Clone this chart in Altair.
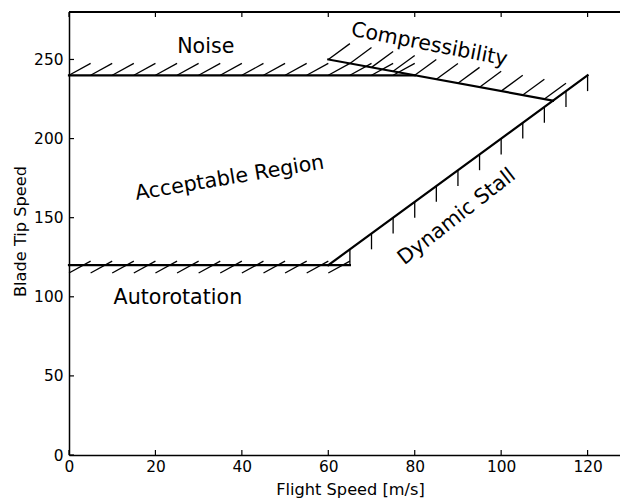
import altair as alt
import pandas as pd

# ---- data ----
# boundary lines (flight speed, blade tip speed)
noise_x = [0, 80]
noise_y = [240, 240]
comp_x = [60, 112]
comp_y = [250, 224]
stall_x = [60, 120]
stall_y = [120, 240]
auto_x = [0, 65]
auto_y = [120, 120]

# hatch anchor points
noise_hatch_x = [0, 5, 10, 15, 20, 25, 30, 35, 40, 45, 50, 55, 60, 65, 70, 75]
comp_hatch_x = [60, 65, 70, 75, 80, 85, 90, 95, 100, 105, 110]
comp_hatch_y = [250, 247.5, 245, 242.5, 240, 237.5, 235, 232.5, 230, 227.5, 225]
auto_hatch_x = [0, 5, 10, 15, 20, 25, 30, 35, 40, 45, 50, 55, 60]
stall_tick_x = [65, 70, 75, 80, 85, 90, 95, 100, 105, 110, 115, 120]
stall_tick_y = [130, 140, 150, 160, 170, 180, 190, 200, 210, 220, 230, 240]

# region labels
labels = ["Noise", "Compressibility", "Acceptable Region", "Dynamic Stall", "Autorotation"]
label_x = [31.65, 83.1, 37.4, 90.6, 25.2]
label_y = [253.8, 255.6, 171.2, 147.5, 95.4]
label_angle = [0, 11, 350.5, 322, 0]

x_ticks = [0, 20, 40, 60, 80, 100, 120]
y_ticks = [0, 50, 100, 150, 200, 250]

XDOM = [0, 127.5]
YDOM = [0, 280]
W, H = 551, 443
FONT = "DejaVu Sans"

# ---- build segment tables ----
main_rows = [
    dict(x=noise_x[0], y=noise_y[0], x2=noise_x[1], y2=noise_y[1]),
    dict(x=comp_x[0], y=comp_y[0], x2=comp_x[1], y2=comp_y[1]),
    dict(x=stall_x[0], y=stall_y[0], x2=stall_x[1], y2=stall_y[1]),
    dict(x=auto_x[0], y=auto_y[0], x2=auto_x[1], y2=auto_y[1]),
]
main_df = pd.DataFrame(main_rows)

hatch_rows = []
for hx in noise_hatch_x:
    hatch_rows.append(dict(x=hx, y=noise_y[0], x2=hx + 5, y2=noise_y[0] + 7.5))
for hx, hy in zip(comp_hatch_x, comp_hatch_y):
    hatch_rows.append(dict(x=hx, y=hy, x2=hx + 5, y2=hy + 10))
for hx in auto_hatch_x:
    hatch_rows.append(dict(x=hx, y=auto_y[0] - 5, x2=hx + 5, y2=auto_y[0] + 2.5))
for tx, ty in zip(stall_tick_x, stall_tick_y):
    hatch_rows.append(dict(x=tx, y=ty, x2=tx, y2=ty - 10))
hatch_df = pd.DataFrame(hatch_rows)

label_df = pd.DataFrame(dict(text=labels, x=label_x, y=label_y, angle=label_angle))

xs = alt.Scale(domain=XDOM, nice=False, zero=False)
ys = alt.Scale(domain=YDOM, nice=False, zero=False)

x_axis = alt.Axis(
    values=x_ticks, ticks=False, grid=False, labelPadding=4, labelFontSize=15.4,
    labelFont=FONT, labelColor="black", domainColor="black", domainWidth=1.5,
    title="Flight Speed [m/s]", titleFont=FONT, titleFontSize=16.2, titleFontWeight="normal",
    titleColor="black", titleX=281, titleY=39.5, titleBaseline="alphabetic", titleAlign="center",
    labelFlush=False, labelOverlap=False,
)
y_axis = alt.Axis(
    values=y_ticks, ticks=False, grid=False, labelPadding=6, labelFontSize=15.4,
    labelFont=FONT, labelColor="black", domainColor="black", domainWidth=1.5,
    title="Blade Tip Speed", titleFont=FONT, titleFontSize=16.2, titleFontWeight="normal",
    titleColor="black", titleX=-44, titleY=219, titleAngle=270, titleBaseline="alphabetic",
    titleAlign="center", labelFlush=False, labelOverlap=False,
)

main = alt.Chart(main_df).mark_rule(color="black", strokeWidth=2.2, strokeCap="square").encode(
    x=alt.X("x:Q", scale=xs, axis=x_axis),
    y=alt.Y("y:Q", scale=ys, axis=y_axis),
    x2="x2:Q",
    y2="y2:Q",
)

hatch = alt.Chart(hatch_df).mark_rule(color="black", strokeWidth=1.3).encode(
    x=alt.X("x:Q", scale=xs),
    y=alt.Y("y:Q", scale=ys),
    x2="x2:Q",
    y2="y2:Q",
)

text = alt.Chart(label_df).mark_text(
    font=FONT, fontSize=20.6, color="black", align="center", baseline="alphabetic"
).encode(
    x=alt.X("x:Q", scale=xs),
    y=alt.Y("y:Q", scale=ys),
    text="text:N",
    angle=alt.Angle("angle:Q", scale=None),
)

# inward tick marks (matplotlib classic style)
xt_df = pd.DataFrame(dict(v=x_ticks))
yt_df = pd.DataFrame(dict(v=y_ticks))
xtick_bottom = alt.Chart(xt_df).mark_rule(color="black", strokeWidth=1.2).encode(
    x=alt.X("v:Q", scale=xs), y=alt.value(H), y2=alt.value(H - 5)
)
xtick_top = alt.Chart(xt_df).mark_rule(color="black", strokeWidth=1.2).encode(
    x=alt.X("v:Q", scale=xs), y=alt.value(0), y2=alt.value(5)
)
ytick_left = alt.Chart(yt_df).mark_rule(color="black", strokeWidth=1.2).encode(
    y=alt.Y("v:Q", scale=ys), x=alt.value(0), x2=alt.value(5)
)
top_spine = alt.Chart(xt_df).mark_rule(color="black", strokeWidth=1.5).encode(
    x=alt.value(0), x2=alt.value(W), y=alt.value(0)
)

chart = alt.layer(
    hatch, main, text, xtick_bottom, xtick_top, ytick_left, top_spine
).properties(
    width=W, height=H,
    autosize=alt.AutoSizeParams(type="none"),
    padding={"left": 69, "top": 12, "right": 0, "bottom": 43},
    background="white",
).configure_view(stroke=None)

chart.save("out.html", embed_options={"renderer": "svg", "actions": False})
